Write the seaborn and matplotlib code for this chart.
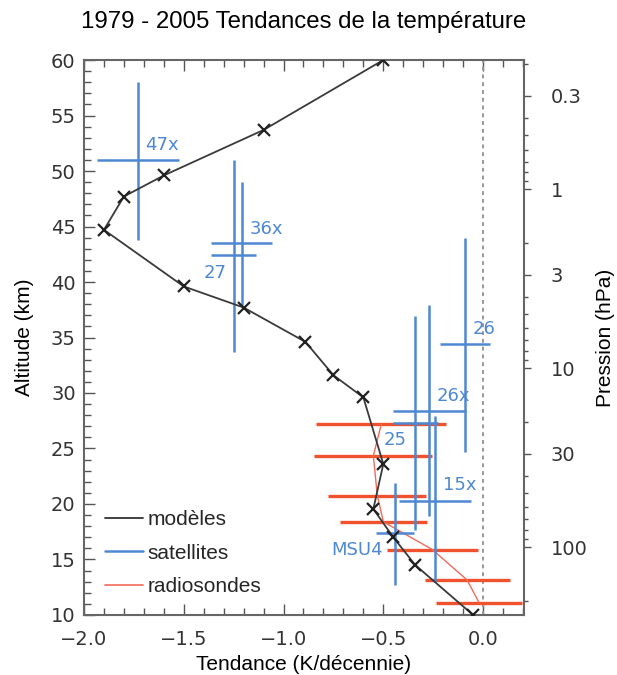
import numpy as np
import pandas as pd
import matplotlib
matplotlib.use("Agg")
import matplotlib.pyplot as plt
import seaborn as sns

# Model trend profile (K/decade) against altitude (km)
model_alt = [60, 53.7, 49.6, 47.7, 44.7, 39.6, 37.7, 34.6, 31.6, 29.6, 23.6, 19.55, 17.0, 14.5, 10]
model_trend = [-0.50, -1.10, -1.60, -1.80, -1.90, -1.50, -1.20, -0.89, -0.75, -0.60,
               -0.50, -0.55, -0.45, -0.34, -0.05]

# Satellite channels: trend, uncertainty, weighting-function centre and extent
sat_labels = ["47x", "36x", "27", "26", "26x", "25", "15x", "MSU4"]
sat_trend = [-1.73, -1.21, -1.25, -0.09, -0.27, -0.34, -0.24, -0.44]
sat_err = [0.205, 0.153, 0.113, 0.125, 0.184, 0.113, 0.180, 0.095]
sat_alt = [51.0, 43.5, 42.4, 34.4, 28.4, 27.3, 20.3, 17.4]
sat_bottom = [43.8, 37.9, 33.7, 24.7, 18.9, 17.7, 13.0, 12.7]
sat_top = [58.05, 49.0, 51.0, 44.0, 37.9, 36.9, 27.9, 21.9]

# Radiosonde trends with uncertainty
rs_alt = [27.2, 24.35, 20.75, 18.4, 15.9, 13.15, 11.1]
rs_trend = [-0.51, -0.55, -0.53, -0.50, -0.255, -0.08, -0.02]
rs_err = [0.326, 0.295, 0.245, 0.219, 0.228, 0.213, 0.216]

# Pressure levels labelled on the right axis (hPa)
p_labels = [0.3, 1, 3, 10, 30, 100]

BLUE = "#4f88d2"
RED = "#f0522e"
RED_THIN = "#f26a5a"
SANS = ["Liberation Sans", "DejaVu Sans"]

sns.set_theme(style="white")
plt.rcParams["font.family"] = ["DejaVu Sans"]

fig = plt.figure(figsize=(6.17, 6.75), dpi=100)
ax = fig.add_axes([0.1361, 0.0889, 0.7132, 0.8222])

model_df = pd.DataFrame({"trend": model_trend, "alt": model_alt})
rs_df = pd.DataFrame({"trend": rs_trend, "alt": rs_alt, "err": rs_err})
sat_df = pd.DataFrame({"label": sat_labels, "trend": sat_trend, "err": sat_err,
                       "alt": sat_alt, "bottom": sat_bottom, "top": sat_top})

ax.axvline(0.0, color="#999999", ls=(0, (2, 2)), lw=1.4, zorder=1)

# radiosondes
ax.hlines(rs_df["alt"], rs_df["trend"] - rs_df["err"], rs_df["trend"] + rs_df["err"],
          color=RED, lw=2.4, zorder=2)
sns.lineplot(data=rs_df, x="trend", y="alt", sort=False, estimator=None,
             color=RED_THIN, lw=1.0, ax=ax, zorder=3)

# satellites
ax.vlines(sat_df["trend"], sat_df["bottom"], sat_df["top"], color=BLUE, lw=1.8, zorder=4)
ax.hlines(sat_df["alt"], sat_df["trend"] - sat_df["err"], sat_df["trend"] + sat_df["err"],
          color=BLUE, lw=1.8, zorder=4)

label_offsets = [(0.12, 1.3), (0.125, 1.3), (-0.093, -1.6), (0.096, 1.4),
                 (0.12, 1.3), (-0.10, -1.5), (0.125, 1.4), (-0.19, -1.5)]
for (_, row), (dx, dy) in zip(sat_df.iterrows(), label_offsets):
    ax.text(row["trend"] + dx, row["alt"] + dy, row["label"], color=BLUE,
            fontsize=13, ha="center", va="center", zorder=5)

# models
sns.lineplot(data=model_df, x="trend", y="alt", sort=False, estimator=None,
             color="#3a3a3a", lw=1.3, marker="x", markersize=8, markeredgewidth=1.6,
             markeredgecolor="#222222", ax=ax, zorder=6)

ax.set_xlim(-2.0, 0.205)
ax.set_ylim(10, 60)
ax.set_xticks([-2.0, -1.5, -1.0, -0.5, 0.0])
ax.set_xticklabels(["\u22122.0", "\u22121.5", "\u22121.0", "\u22120.5", "0.0"])
ax.set_xticks(np.arange(-2.0, 0.21, 0.1), minor=True)
ax.set_yticks(np.arange(10, 61, 5))
ax.set_yticks(np.arange(10, 61, 1), minor=True)
ax.tick_params(axis="both", which="both", direction="in", colors="#555555",
               labelcolor="#333333", labelsize=14)
ax.tick_params(axis="x", which="both", top=True, bottom=True, pad=11)
ax.tick_params(axis="y", which="both", left=True, right=False, pad=6)
ax.tick_params(which="major", length=8, width=1.0)
ax.tick_params(which="minor", length=5, width=1.0)
for s in ax.spines.values():
    s.set_color("#666666")
    s.set_linewidth(1.5)

ax.set_xlabel("Tendance (K/décennie)", fontsize=15, color="black", labelpad=4,
              family=SANS)
ax.set_ylabel("Altitude (km)", fontsize=15, color="black", labelpad=12, family=SANS)
ax.set_title("1979 - 2005 Tendances de la température", fontsize=17.3, pad=23,
             color="black", family=SANS)

# pressure axis: z = 7 km * ln(1000 / p)
def p2z(p):
    return 7.0 * np.log(1000.0 / np.asarray(p, dtype=float))

ax2 = ax.twinx()
ax2.set_ylim(10, 60)
ax2.set_yticks(p2z(p_labels))
ax2.set_yticklabels([f"{p:g}" for p in p_labels])
minor_p = [p for dec in (0.1, 1, 10, 100) for p in np.arange(2, 10) * dec]
minor_p = [p for p in minor_p if 10 <= p2z(p) <= 60]
ax2.set_yticks(p2z(minor_p), minor=True)
ax2.tick_params(axis="y", which="both", direction="out", colors="#555555",
                labelcolor="#333333", labelsize=14, pad=14)
ax2.tick_params(which="major", length=5, width=1.0)
ax2.tick_params(which="minor", length=3, width=1.0)
ax2.grid(False)
for s in ax2.spines.values():
    s.set_visible(False)
ax2.set_ylabel("Pression (hPa)", fontsize=15, color="black", labelpad=6, family=SANS)

# legend
handles = [plt.Line2D([], [], color="#333333", lw=1.3),
           plt.Line2D([], [], color=BLUE, lw=1.8),
           plt.Line2D([], [], color=RED_THIN, lw=1.2)]
ax.legend(handles, ["modèles", "satellites", "radiosondes"], loc="lower left",
          bbox_to_anchor=(0.005, 0.0), frameon=False,
          prop={"family": SANS, "size": 15},
          handlelength=1.85, handletextpad=0.2, labelspacing=0.7)

fig.savefig("out.png", dpi=100)
